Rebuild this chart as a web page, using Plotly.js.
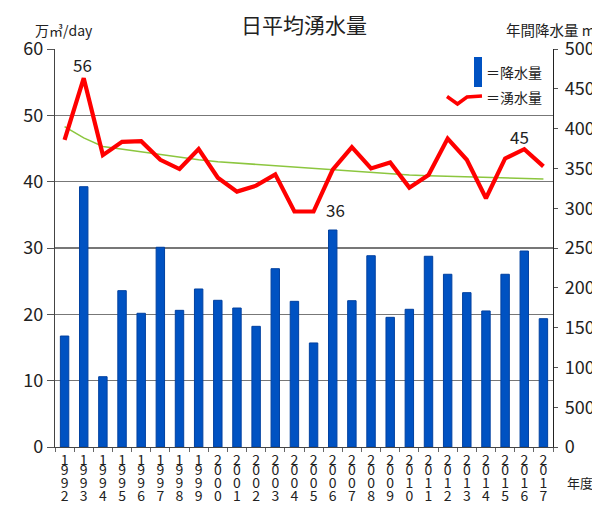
<!DOCTYPE html>
<html>
<head>
<meta charset="utf-8">
<script src="https://cdn.plot.ly/plotly-3.0.1.min.js"></script>
<style>html,body{margin:0;padding:0;background:#fff;}#chart{width:592px;height:509px;}</style>
</head>
<body>
<div id="chart"></div>
<script>
// ---- data ----
const years = ['1992','1993','1994','1995','1996','1997','1998','1999','2000','2001','2002','2003','2004',
               '2005','2006','2007','2008','2009','2010','2011','2012','2013','2014','2015','2016','2017'];
// annual precipitation (mm) - right axis
const rainfall = [1394,3270,883,1964,1680,2509,1717,1985,1843,1746,1516,2240,1830,
                  1307,2726,1838,2403,1629,1730,2396,2170,1939,1709,2170,2462,1612];
// daily average spring water (万㎥/day) - left axis
const springWater = [46.3,55.6,44.0,46.0,46.1,43.3,41.9,44.9,40.6,38.5,39.4,41.1,35.5,
                     35.5,41.8,45.2,42.0,42.9,39.1,41.0,46.5,43.3,37.5,43.5,44.9,42.3];
// trend line
const trend = [48.3,46.6,45.3,44.9,44.5,44.0,43.6,43.3,43.0,42.8,42.5,42.3,42.1,
               41.9,41.7,41.5,41.3,41.2,41.0,40.9,40.8,40.7,40.6,40.5,40.45,40.4];
// data labels
const labelIdx = [1, 13, 24];
const labelText = ['56', '36', '45'];

const FONT = '"Noto Sans CJK JP", "Noto Sans", sans-serif';
const TXT = '#222';

const digitRow = k => years.map(y => y[k]);

const traces = [
  {type:'bar', x: years, y: rainfall, xaxis:'x', yaxis:'y', width:0.44,
   marker:{color:'#0052c2', line:{color:'#0040a0', width:1}}},
  {type:'scatter', mode:'lines', x: years, y: trend, xaxis:'x', yaxis:'y2',
   line:{color:'#8cc63f', width:1.6}},
  {type:'scatter', mode:'lines', x: years, y: springWater, xaxis:'x', yaxis:'y2',
   line:{color:'#ff0000', width:4.2}},
];
// invisible traces to activate the extra digit-row axes
['x2','x3','x4'].forEach(ax => traces.push({type:'scatter', mode:'markers', x: years,
  y: years.map(()=>null), xaxis: ax, yaxis:'y', marker:{opacity:0}, hoverinfo:'skip'}));

const P = (px) => (px - 55) / 498;
const Q = (py) => (447 - py) / 398;

const digitAxis = (k, standoff) => ({
  type:'category', categoryorder:'array', categoryarray: years, range:[-0.5, 25.5],
  overlaying:'x', anchor:'y', side:'bottom', showgrid:false, showline:false, zeroline:false,
  ticks:'', tickmode:'array', tickvals: years, ticktext: digitRow(k),
  ticklabelstandoff: standoff, tickfont:{family:FONT, size:14, color:TXT}
});

const annotations = [
  {text:'万㎥/day', xref:'paper', yref:'paper', x:P(63.5), y:Q(30), xanchor:'center', yanchor:'middle',
   showarrow:false, font:{family:FONT, size:14, color:TXT}},
  {text:'年間降水量 mm', xref:'paper', yref:'paper', x:P(504), y:Q(29), xanchor:'left', yanchor:'middle',
   showarrow:false, font:{family:FONT, size:14.5, color:TXT}},
  {text:'年度', xref:'paper', yref:'paper', x:P(565), y:Q(482), xanchor:'left', yanchor:'middle',
   showarrow:false, font:{family:FONT, size:13, color:TXT}},
  {text:'＝降水量', xref:'paper', yref:'paper', x:P(484), y:Q(72), xanchor:'left', yanchor:'middle',
   showarrow:false, font:{family:FONT, size:14, color:TXT}},
  {text:'＝湧水量', xref:'paper', yref:'paper', x:P(484), y:Q(97), xanchor:'left', yanchor:'middle',
   showarrow:false, font:{family:FONT, size:14, color:TXT}},
];
const shifts = [[-1,14],[22,2],[-5,13]];
labelIdx.forEach((i, n) => annotations.push({
  text: labelText[n], x: i, y: springWater[i], xref:'x', yref:'y2',
  xshift: shifts[n][0], yshift: shifts[n][1], showarrow:false, xanchor:'center', yanchor:'middle',
  font:{family:FONT, size:17, color:TXT}
}));

const shapes = [
  {type:'rect', xref:'paper', yref:'paper', x0:P(474), x1:P(482), y0:Q(87), y1:Q(57),
   fillcolor:'#0052c2', line:{width:0}},
  {type:'path', xref:'paper', yref:'paper',
   path:`M ${P(447)} ${Q(96.5)} L ${P(457.5)} ${Q(104)} L ${P(467)} ${Q(97)} L ${P(482)} ${Q(96)}`,
   line:{color:'#ff0000', width:3.5}},
];

const layout = {
  width:592, height:509,
  margin:{l:55, r:39, t:49, b:62, pad:0},
  paper_bgcolor:'#fff', plot_bgcolor:'#fff',
  showlegend:false, hovermode:false,
  font:{family:FONT, color:TXT},
  title:{text:'日平均湧水量', x:0.5, xref:'paper', y:1-26/509, yref:'container', yanchor:'middle',
         font:{family:FONT, size:21, color:TXT}},
  xaxis:{type:'category', categoryorder:'array', categoryarray: years, range:[-0.5,25.5],
         showgrid:false, zeroline:false, showline:true, linecolor:'#444', linewidth:1.2,
         ticks:'outside', tickson:'boundaries', ticklen:4, tickcolor:'#666',
         tickmode:'array', tickvals: years, ticktext: digitRow(0), ticklabelstandoff:0,
         tickfont:{family:FONT, size:14, color:TXT}},
  xaxis2: digitAxis(1, 13),
  xaxis3: digitAxis(2, 26),
  xaxis4: digitAxis(3, 39),
  yaxis:{side:'right', range:[0,5000], dtick:500, showgrid:false, zeroline:false,
         showline:true, linecolor:'#222', linewidth:1.2, ticks:'outside', ticklen:4, tickcolor:'#555',
         exponentformat:'none', separatethousands:false, ticklabelstandoff:3,
         tickfont:{family:FONT, size:18, color:TXT}},
  yaxis2:{overlaying:'y', side:'left', range:[0,60], dtick:10, showgrid:true, gridcolor:'#777', gridwidth:1.3,
          zeroline:false, showline:true, linecolor:'#444', linewidth:1.2, ticks:'outside', ticklen:7,
          tickcolor:'#555', tickfont:{family:FONT, size:18, color:TXT}},
  annotations, shapes
};

Plotly.newPlot('chart', traces, layout, {staticPlot:true, displayModeBar:false});
</script>
</body>
</html>
